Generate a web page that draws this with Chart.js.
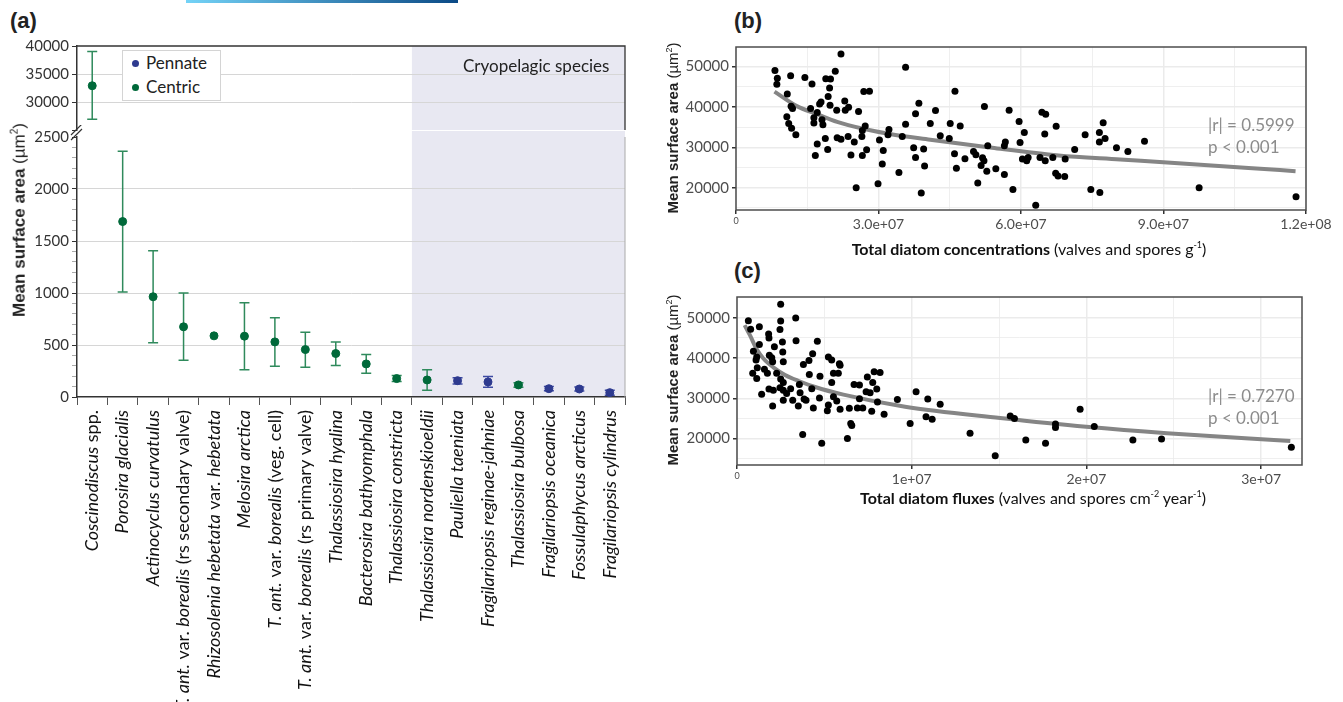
<!DOCTYPE html>
<html>
<head>
<meta charset="utf-8">
<script src="https://cdn.jsdelivr.net/npm/chart.js@4.4.0/dist/chart.umd.min.js"></script>
<style>
  body { margin: 0; width: 1343px; height: 702px; background: #fff; position: relative; overflow: hidden; font-family: Lato, "Open Sans", sans-serif; color: #222; }
  canvas, .txt { position: absolute; }
  .panel { font: bold 22px "Liberation Sans", Arial, sans-serif; position: absolute; }
  .ytitle { position: absolute; white-space: nowrap; transform: translate(-50%, -50%) rotate(-90deg); font: 16px "Liberation Sans", Arial, sans-serif; }
  .ytitle b { font-weight: bold; }
  .xtitle { position: absolute; white-space: nowrap; transform: translate(-50%, -50%); font: 16px Lato, sans-serif; color: #111; }
  .stat { position: absolute; font: 17px Lato, sans-serif; color: #8c8c8c; line-height: 22px; }
  .legend { position: absolute; left: 122px; top: 50px; width: 97px; height: 49px; border: 1px solid #d4d4d4; background: #fff; font: 17px Lato, sans-serif; }
  .legend div { position: absolute; left: 9px; }
  .legend span { display: inline-block; width: 7px; height: 7px; border-radius: 50%; margin-right: 7px; vertical-align: 2px; }
</style>
</head>
<body>
<div style="position:absolute;left:186px;top:0;width:272px;height:3px;background:linear-gradient(to right,#74d3f7,#0b4a86)"></div>

<div class="panel" style="left:10px;top:8px">(a)</div>
<div class="panel" style="left:734px;top:8px">(b)</div>
<div class="panel" style="left:734px;top:258px">(c)</div>

<canvas id="aTop" width="640" height="112" style="left:0;top:30px"></canvas>
<canvas id="aBottom" width="640" height="577" style="left:0;top:125px"></canvas>
<canvas id="bChart" width="683" height="250" style="left:660px;top:30px"></canvas>
<canvas id="cChart" width="683" height="250" style="left:660px;top:280px"></canvas>

<div class="legend">
  <div style="top:1px"><span style="background:#2e3a8f"></span>Pennate</div>
  <div style="top:25px"><span style="background:#00693a"></span>Centric</div>
</div>
<div class="txt" style="left:463px;top:55px;font:17px Lato,sans-serif;color:#222">Cryopelagic species</div>

<div class="ytitle" style="left:19px;top:220px;font-size:17px"><b>Mean surface area</b> (µm<sup style="font-size:10px">2</sup>)</div>
<div class="ytitle" style="left:672px;top:128px;font-size:15px"><b>Mean surface area</b> (µm<sup style="font-size:9px">2</sup>)</div>
<div class="ytitle" style="left:672px;top:380px;font-size:15px"><b>Mean surface area</b> (µm<sup style="font-size:9px">2</sup>)</div>
<div class="xtitle" style="left:1029px;top:248px"><b>Total diatom concentrations</b> (valves and spores g<sup style="font-size:9px">-1</sup>)</div>
<div class="xtitle" style="left:1033px;top:497px"><b>Total diatom fluxes</b> (valves and spores cm<sup style="font-size:9px">-2</sup> year<sup style="font-size:9px">-1</sup>)</div>

<div class="stat" style="left:1208px;top:114px">|r| = 0.5999<br>p &lt; 0.001</div>
<div class="stat" style="left:1208px;top:385px">|r| = 0.7270<br>p &lt; 0.001</div>

<script>
// ---- panel (a): mean surface area per taxon ----
const species = [
  'Coscinodiscus spp.', 'Porosira glacialis', 'Actinocyclus curvatulus',
  'T. ant. var. borealis (rs secondary valve)', 'Rhizosolenia hebetata var. hebetata',
  'Melosira arctica', 'T. ant. var. borealis (veg. cell)', 'T. ant. var. borealis (rs primary valve)',
  'Thalassiosira hyalina', 'Bacterosira bathyomphala', 'Thalassiosira constricta',
  'Thalassiosira nordenskioeldii', 'Pauliella taeniata', 'Fragilariopsis reginae-jahniae',
  'Thalassiosira bulbosa', 'Fragilariopsis oceanica', 'Fossulaphycus arcticus', 'Fragilariopsis cylindrus'
];
const speciesType = ['Centric','Centric','Centric','Centric','Centric','Centric','Centric','Centric','Centric',
  'Centric','Centric','Centric','Pennate','Pennate','Centric','Pennate','Pennate','Pennate'];
const meanArea = [32900, 1687, 964, 675, 588, 585, 530, 456, 418, 318, 177, 164, 157, 145, 116, 80, 77, 42];
const errLow   = [26900, 1009, 521, 353, null, 263, 296, 286, 302, 228, 148, 64, 125, 93, 93, 61, 58, 16];
const errHigh  = [39000, 2362, 1407, 999, null, 906, 762, 623, 530, 408, 206, 263, 186, 196, 138, 100, 96, 64];
const cryoStart = 11; // first cryopelagic taxon

// ---- panel (b): concentrations (millions of valves and spores per g) ----
const concX = [8.2,8.7,8.6,11.5,14.5,16.0,18.9,19.9,20.9,22.1,10.8,11.6,11.9,10.7,11.1,11.7,12.6,15.7,17.1,16.4,16.4,17.6,17.9,19.4,19.7,19.8,18.1,18.3,21.2,22.9,23.0,23.7,25.8,26.9,28.1,27.2,26.6,26.5,17.1,18.8,21.3,22.1,23.6,24.9,27.5,19.3,16.7,24.2,26.6,25.3,29.9,30.2,31.0,30.8,32.2,32.0,34.3,35.0,35.7,35.7,37.8,38.5,37.4,37.8,39.5,39.7,39.0,40.9,
  42.0,43.0,44.9,45.1,47.2,46.1,46.0,46.4,48.2,50.0,50.5,51.6,51.9,52.2,52.8,52.3,53.0,50.9,54.7,56.5,56.7,56.5,57.5,58.3,59.6,59.8,60.7,60.3,61.2,61.5,63.1,64.0,64.4,65.2,65.0,65.1,66.7,67.4,67.3,67.8,69.2,69.3,71.3,73.5,74.7,76.6,76.5,76.5,77.3,77.7,80.1,82.5,86.0,97.5,117.9];
const concY = [49000,47100,45600,47700,47300,45700,47000,46900,48800,53100,43200,40200,39600,37600,35900,34700,33100,39600,38600,37300,36000,40700,41200,42600,44700,40400,36800,35600,39200,41500,39200,39900,38900,43800,43900,35300,34200,32700,30800,32200,32400,32000,32700,31300,29400,29500,28000,28100,28000,20000,21000,31800,29200,25900,34400,33100,23800,32700,49800,35700,38300,40900,29900,27500,29600,25400,18700,35900,
  39100,32900,32200,35900,35300,43900,28400,24800,27200,29000,28200,25500,27400,26700,24100,40100,30400,21200,24700,23300,31300,30400,39200,19600,36400,31200,33700,27100,26700,27500,15700,27500,38700,38200,33300,26700,27500,35200,23600,22900,22800,27100,29500,33100,19600,18800,33700,31300,36100,32200,29900,29000,31500,20000,17800];
const concFitX = [8.1, 12.8, 17.1, 21.3, 26.8, 32.4, 40.9, 53.9, 67.9, 80.9, 93.9, 107.9, 117.8];
const concFitY = [43800, 40200, 38200, 36300, 34600, 33300, 31900, 29900, 28000, 27000, 26000, 24900, 24100];

// ---- panel (c): fluxes (millions of valves and spores per cm2 per year) ----
const fluxX = [0.65,0.78,1.28,1.81,1.83,2.50,2.50,2.46,3.36,3.38,2.60,2.14,1.28,0.94,1.13,1.09,1.57,1.16,0.90,1.13,1.85,1.99,2.04,2.62,2.65,1.74,2.27,2.50,2.65,1.41,1.83,2.08,2.46,2.65,2.84,3.07,2.04,2.65,3.19,3.51,3.61,3.57,3.84,3.95,3.80,4.12,4.14,4.33,4.28,4.37,3.76,
  4.60,4.75,4.72,4.85,5.23,5.42,5.86,5.90,5.52,5.80,5.42,5.52,5.23,5.17,5.71,5.90,6.32,6.51,6.57,6.43,6.70,7.01,7.01,6.89,7.20,7.46,7.39,7.62,7.77,7.85,8.19,8.00,8.04,7.71,8.42,9.18,
  9.91,10.25,10.92,10.82,11.17,11.63,13.34,14.78,15.64,15.88,16.53,17.66,18.23,18.23,19.64,20.45,22.66,24.30,31.73];
const fluxY = [49300,47200,47800,46000,45000,53400,49200,47100,50000,44300,44000,42800,43400,41700,40300,39500,37200,37600,36200,34900,40700,40100,39100,41500,39100,36200,36200,34800,33900,31000,32300,32000,32600,32000,31200,32400,28100,29500,29500,28100,31400,33400,29800,29500,38400,39400,35900,41100,32400,27600,21000,
  44200,35500,30100,18800,40300,39500,38600,38200,36200,36200,33900,30400,28300,26900,29300,27300,20000,23700,23200,27500,33400,33300,29900,27600,27600,35300,31600,31400,33900,36600,36400,32300,29100,26800,26000,29700,
  23700,31600,29800,25400,24800,28500,21300,15700,25600,25000,19600,18800,23600,22700,27300,23000,19600,19900,17800];
const fluxFitX = [0.44, 0.74, 1.13, 1.51, 2.08, 2.75, 3.53, 4.47, 6.09, 9.62, 15.06, 19.99, 24.61, 31.67];
const fluxFitY = [48200, 45700, 42200, 39900, 37700, 35800, 34300, 32800, 30900, 27900, 25100, 22900, 21300, 19400];

const GREEN = '#00693a', GREEN_BAR = '#2f8a5c', BLUE = '#2e3a8f', BLUE_BAR = '#3d4aa3';

function styledParts(name) {
  const plain = /^( spp\.| var\. | \(.*\))$/;
  return name.split(/( spp\.| var\. | \(.*\))/).filter(Boolean)
    .map(t => ({ t, italic: !plain.test(t) }));
}

function shadePlugin(extendUp) {
  return {
    id: 'shade',
    beforeDraw(chart) {
      const { ctx, chartArea: a, scales: { x } } = chart;
      const left = (x.getPixelForValue(cryoStart - 1) + x.getPixelForValue(cryoStart)) / 2;
      ctx.save();
      ctx.fillStyle = '#e8e8f2';
      ctx.fillRect(left, a.top - extendUp, a.right - left, a.bottom - a.top + extendUp);
      ctx.restore();
    }
  };
}

const errorBarPlugin = {
  id: 'errorBars',
  beforeDatasetsDraw(chart) {
    const { ctx, scales: { x, y } } = chart;
    ctx.save();
    ctx.lineWidth = 1.5;
    meanArea.forEach((v, i) => {
      if (errLow[i] == null || v < y.min || v > y.max) return;
      const px = x.getPixelForValue(i);
      const y1 = y.getPixelForValue(errLow[i]);
      const y2 = y.getPixelForValue(errHigh[i]);
      ctx.strokeStyle = speciesType[i] === 'Pennate' ? BLUE_BAR : GREEN_BAR;
      ctx.beginPath();
      ctx.moveTo(px, y1); ctx.lineTo(px, y2);
      ctx.moveTo(px - 5, y1); ctx.lineTo(px + 5, y1);
      ctx.moveTo(px - 5, y2); ctx.lineTo(px + 5, y2);
      ctx.stroke();
    });
    ctx.restore();
  }
};

const speciesLabelPlugin = {
  id: 'speciesLabels',
  afterDraw(chart) {
    const { ctx, chartArea: a, scales: { x } } = chart;
    ctx.save();
    ctx.fillStyle = '#111';
    ctx.textBaseline = 'middle';
    species.forEach((name, i) => {
      const parts = styledParts(name);
      const fontOf = p => (p.italic ? 'italic ' : '') + '18px Lato, sans-serif';
      let total = 0;
      parts.forEach(p => { ctx.font = fontOf(p); total += ctx.measureText(p.t).width; });
      ctx.save();
      ctx.translate(x.getPixelForValue(i), a.bottom + 13);
      ctx.rotate(-Math.PI / 2);
      let cx = -total;
      parts.forEach(p => { ctx.font = fontOf(p); ctx.fillText(p.t, cx, 0); cx += ctx.measureText(p.t).width; });
      ctx.restore();
    });
    ctx.restore();
  }
};

const frameTopPlugin = {
  id: 'frameTop',
  afterDraw(chart) {
    const { ctx, chartArea: a } = chart;
    ctx.save();
    ctx.strokeStyle = '#333';
    ctx.lineWidth = 1.3;
    ctx.beginPath();
    ctx.moveTo(a.left, a.top); ctx.lineTo(a.right, a.top); ctx.lineTo(a.right, a.bottom);
    ctx.stroke();
    ctx.restore();
  }
};

const breakPlugin = {
  id: 'axisBreak',
  afterDraw(chart) {
    const { ctx, chartArea: a } = chart;
    ctx.save();
    ctx.strokeStyle = '#333';
    ctx.lineWidth = 1.2;
    ctx.beginPath();
    [0, -5].forEach(d => { ctx.moveTo(a.left - 6, a.top + 3 + d); ctx.lineTo(a.left + 5, a.top - 8 + d); });
    ctx.stroke();
    ctx.strokeStyle = '#aaa';
    ctx.lineWidth = 1;
    ctx.beginPath();
    ctx.moveTo(a.right, a.top); ctx.lineTo(a.right, a.bottom);
    ctx.stroke();
    ctx.restore();
  }
};

function pointData(min, max, type) {
  return meanArea.map((v, i) => (speciesType[i] === type && v >= min && v <= max ? v : null));
}

function panelA(id, min, max, step, opts) {
  const tickFont = { family: 'Lato', size: 15 };
  return new Chart(document.getElementById(id), {
    type: 'line',
    data: {
      labels: species,
      datasets: [
        { data: pointData(min, max, 'Centric'), showLine: false, pointRadius: 4, pointBackgroundColor: GREEN, pointBorderColor: GREEN },
        { data: pointData(min, max, 'Pennate'), showLine: false, pointRadius: 4, pointBackgroundColor: BLUE, pointBorderColor: BLUE }
      ]
    },
    options: {
      responsive: false,
      animation: false,
      layout: { padding: opts.padding },
      plugins: { legend: { display: false }, tooltip: { enabled: false } },
      scales: {
        x: Object.assign({ type: 'category', offset: true }, opts.x),
        y: {
          min, max,
          afterFit: s => { s.width = 77; },
          border: { color: '#333', width: 1.5 },
          grid: {
            color: c => (c.tick.value % opts.major === 0 && c.tick.value > min && c.tick.value < max ? '#d6d6d6' : 'rgba(0,0,0,0)'),
            tickColor: c => (c.tick.value % opts.major === 0 ? '#333' : '#aaa'),
            tickLength: 5
          },
          ticks: {
            stepSize: step, autoSkip: false, padding: 3, color: '#333', font: tickFont,
            callback: v => (v % opts.major === 0 && !(opts.hideMin && v === min) ? String(v) : '')
          }
        }
      }
    },
    plugins: opts.plugins
  });
}

panelA('aTop', 25000, 40000, 5000, {
  major: 5000, hideMin: true,
  padding: { top: 16, right: 15, bottom: 10, left: 0 },
  x: { display: false },
  plugins: [shadePlugin(0), errorBarPlugin, frameTopPlugin]
});

panelA('aBottom', 0, 2500, 100, {
  major: 500,
  padding: { top: 12, right: 15, bottom: 0, left: 0 },
  x: {
    afterFit: s => { s.height = 305; },
    border: { color: '#333', width: 1.5 },
    grid: { offset: true, drawOnChartArea: false, tickLength: 8, color: '#555' },
    ticks: { display: false }
  },
  plugins: [shadePlugin(6), errorBarPlugin, speciesLabelPlugin, breakPlugin]
});

// ---- panels (b) and (c) ----
function sci(v, digits) {
  if (v === 0) return '0';
  const e = Math.floor(Math.log10(v) + 1e-9);
  return (v / Math.pow(10, e)).toFixed(digits) + 'e+' + String(e).padStart(2, '0');
}

const framePlugin = {
  id: 'frame',
  afterDraw(chart) {
    const { ctx, chartArea: a } = chart;
    ctx.save();
    ctx.strokeStyle = '#4d4d4d';
    ctx.lineWidth = 1.5;
    ctx.strokeRect(a.left, a.top, a.right - a.left, a.bottom - a.top);
    ctx.restore();
  }
};

function scatterPanel(id, xs, ys, fitX, fitY, cfg) {
  const isMajor = (v, m) => Math.abs(v / m - Math.round(v / m)) < 1e-6;
  return new Chart(document.getElementById(id), {
    type: 'scatter',
    data: {
      datasets: [
        { data: xs.map((x, i) => ({ x, y: ys[i] })), pointRadius: 3.5, pointBackgroundColor: '#000', pointBorderWidth: 0, order: 1 },
        { type: 'line', data: fitX.map((x, i) => ({ x, y: fitY[i] })), borderColor: '#858585', borderWidth: 4, pointRadius: 0, cubicInterpolationMode: 'monotone', order: 2 }
      ]
    },
    options: {
      responsive: false,
      animation: false,
      layout: { padding: { top: 17, right: cfg.padRight, bottom: 0, left: 0 } },
      plugins: { legend: { display: false }, tooltip: { enabled: false } },
      scales: {
        x: {
          type: 'linear', min: 0, max: cfg.xMax,
          afterFit: s => { s.height = cfg.xHeight; },
          afterBuildTicks: s => { s.ticks = cfg.xTicks.map(value => ({ value })); },
          border: { display: false },
          grid: {
            color: '#ebebeb',
            lineWidth: c => (isMajor(c.tick.value, cfg.xMajor) ? 1.5 : 0.8),
            tickColor: c => (isMajor(c.tick.value, cfg.xMajor) ? '#333' : 'rgba(0,0,0,0)'),
            tickLength: 4
          },
          ticks: {
            autoSkip: false, maxRotation: 0, padding: 2, color: '#4d4d4d',
            font: c => ({ family: 'Lato', size: c.tick && c.tick.value === 0 ? 9 : 14 }),
            callback: v => (isMajor(v, cfg.xMajor) ? sci(v * 1e6, cfg.digits) : '')
          }
        },
        y: {
          min: cfg.yMin, max: cfg.yMax,
          afterFit: s => { s.width = cfg.yWidth; },
          afterBuildTicks: s => { s.ticks = [15000, 20000, 25000, 30000, 35000, 40000, 45000, 50000].map(value => ({ value })); },
          border: { display: false },
          grid: {
            color: '#ebebeb',
            lineWidth: c => (c.tick.value % 10000 === 0 ? 1.5 : 0.8),
            tickColor: c => (c.tick.value % 10000 === 0 ? '#333' : 'rgba(0,0,0,0)'),
            tickLength: 4
          },
          ticks: {
            autoSkip: false, padding: 3, color: '#4d4d4d', font: { family: 'Lato', size: 15 },
            callback: v => (v % 10000 === 0 ? String(v) : '')
          }
        }
      }
    },
    plugins: [framePlugin]
  });
}

scatterPanel('bChart', concX, concY, concFitX, concFitY, {
  xMax: 120, xMajor: 30, digits: 1, xTicks: [0, 15, 30, 45, 60, 75, 90, 105, 120],
  yMin: 14500, yMax: 54830, yWidth: 76, padRight: 37, xHeight: 70
});
scatterPanel('cChart', fluxX, fluxY, fluxFitX, fluxFitY, {
  xMax: 32.34, xMajor: 10, digits: 0, xTicks: [0, 5, 10, 15, 20, 25, 30],
  yMin: 13400, yMax: 55200, yWidth: 77, padRight: 41, xHeight: 65
});
</script>
</body>
</html>
